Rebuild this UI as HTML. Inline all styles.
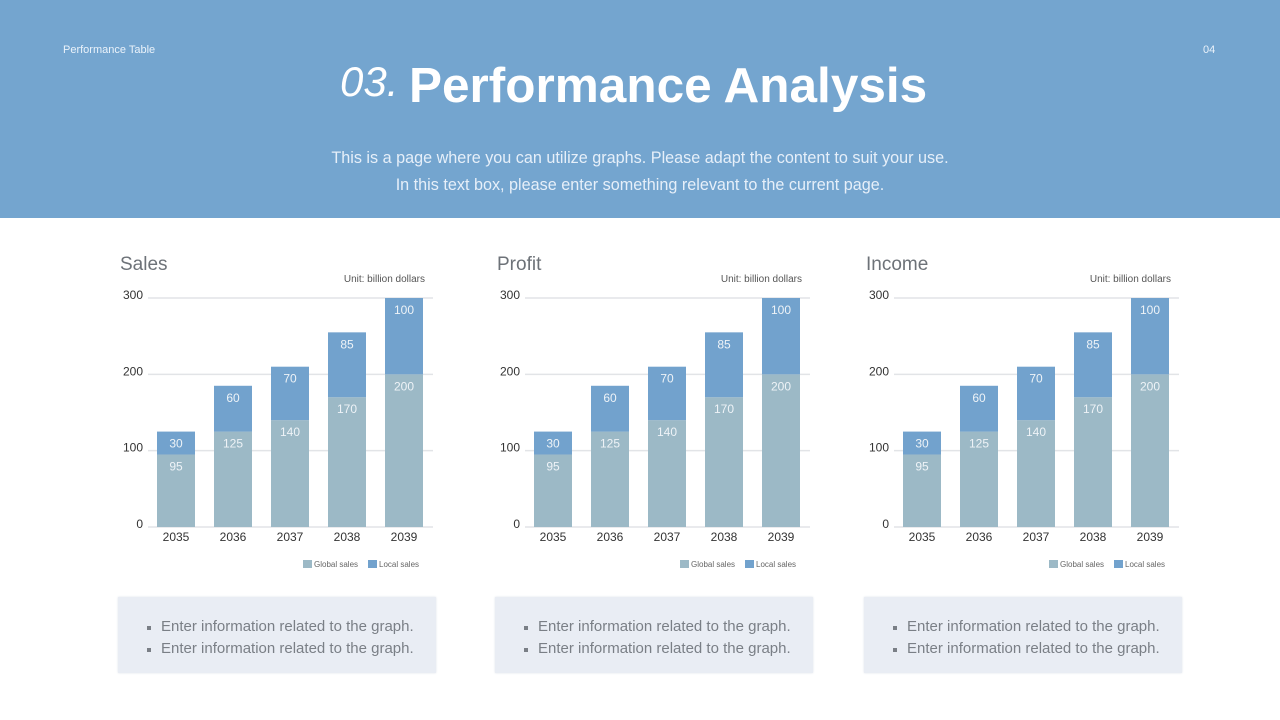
<!DOCTYPE html>
<html><head><meta charset="utf-8"><style>
body{margin:0;width:1280px;height:720px;position:relative;background:#fff;font-family:"Liberation Sans",sans-serif;overflow:hidden}
.hdr{position:absolute;left:0;top:0;width:1280px;height:218px;background:#74a5cf}
.abs{position:absolute;white-space:nowrap}
.box{position:absolute;top:597px;width:318px;height:76px;background:#e9edf4;box-shadow:0 0 2px #dde2ea}
.box div{position:absolute;left:43px;font-size:15px;color:#7a7f86}
.box div:before{content:"";position:absolute;left:-14px;top:8px;width:4px;height:4px;background:#7a7f86}
</style></head><body>
<div class="hdr"></div>
<div class="abs" style="left:63px;top:44px;font-size:11px;color:#eaf2fa">Performance Table</div>
<div class="abs" style="left:1203px;top:44px;font-size:11px;color:#eaf2fa">04</div>
<div class="abs" style="left:340px;top:58px;font-size:42px;color:#fff;font-style:italic">03.</div>
<div class="abs" style="left:409px;top:57px;font-size:49.5px;font-weight:bold;color:#fff">Performance Analysis</div>
<div class="abs" style="left:0;width:1280px;text-align:center;top:145px;font-size:16.2px;line-height:27px;color:#e6eff9">This is a page where you can utilize graphs. Please adapt the content to suit your use.<br>In this text box, please enter something relevant to the current page.</div>
<svg id="charts" width="1280" height="720" style="position:absolute;left:0;top:0"></svg>
<div class="box" style="left:118px"><div style="top:21px">Enter information related to the graph.</div><div style="top:43px">Enter information related to the graph.</div></div>
<div class="box" style="left:495px"><div style="top:21px">Enter information related to the graph.</div><div style="top:43px">Enter information related to the graph.</div></div>
<div class="box" style="left:864px"><div style="top:21px">Enter information related to the graph.</div><div style="top:43px">Enter information related to the graph.</div></div>
<script>
const categories=["2035","2036","2037","2038","2039"];
const salesGlobal=[95,125,140,170,200];
const salesLocal=[30,60,70,85,100];
const profitGlobal=[95,125,140,170,200];
const profitLocal=[30,60,70,85,100];
const incomeGlobal=[95,125,140,170,200];
const incomeLocal=[30,60,70,85,100];
const yTicks=[0,100,200,300];
const titles=["Sales","Profit","Income"];
const NS="http://www.w3.org/2000/svg";
const svg=document.getElementById('charts');
function mk(tag,attrs,text,parent){const e=document.createElementNS(NS,tag);for(const k in attrs)e.setAttribute(k,attrs[k]);if(text!==undefined)e.textContent=text;(parent||svg).appendChild(e);return e;}
const sets=[[salesGlobal,salesLocal],[profitGlobal,profitLocal],[incomeGlobal,incomeLocal]];
const offsets=[0,377,746];
sets.forEach((s,ci)=>{
  const ox=offsets[ci];
  const g=mk('g',{});
  
  
  const y=v=>527-v*(229/300);
  const x=i=>176+ox+57*i;
  const t=mk('text',{x:120+ox,y:270,'font-size':19,fill:'#6d7278'},titles[ci],g);
  
  
  const u=mk('text',{x:425+ox,y:282,'font-size':10,fill:'#555','text-anchor':'end'},'Unit: billion dollars',g);
  
  
  yTicks.forEach(v=>{
    const l=mk('line',{x1:148+ox,x2:433+ox,y1:y(v),y2:y(v),stroke:'#e2e4e7','stroke-width':1.5},undefined,g);
    
    
    const tl=mk('text',{x:143+ox,y:y(v)+1,'font-size':12,fill:'#333','text-anchor':'end'},String(v),g);
    
    
  });
  categories.forEach((c,i)=>{
    const gv=s[0][i],lv=s[1][i];
    const b1=mk('rect',{x:x(i)-19,y:y(gv),width:38,height:y(0)-y(gv),fill:'#9cb9c6'},undefined,g);
    
    
    const b2=mk('rect',{x:x(i)-19,y:y(gv+lv),width:38,height:y(gv)-y(gv+lv),fill:'#72a2cd'},undefined,g);
    
    
    const v1=mk('text',{x:x(i),y:y(gv)+16,'font-size':12,fill:'#eef3f7','text-anchor':'middle'},String(gv),g);
    
    
    const v2=mk('text',{x:x(i),y:y(gv+lv)+16,'font-size':12,fill:'#eef3f7','text-anchor':'middle'},String(lv),g);
    
    
    const xl=mk('text',{x:x(i),y:541,'font-size':12,fill:'#333','text-anchor':'middle'},c,g);
    
    
  });
  const lg=mk('g',{},undefined,g);
  
  
  mk('rect',{x:303+ox,y:560,width:9,height:8,fill:'#9cb9c6'},undefined,lg);
  mk('text',{x:314+ox,y:567,'font-size':8,fill:'#666'},'Global sales',lg);
  mk('rect',{x:368+ox,y:560,width:9,height:8,fill:'#72a2cd'},undefined,lg);
  mk('text',{x:379+ox,y:567,'font-size':8,fill:'#666'},'Local sales',lg);
});
</script>
</body></html>
